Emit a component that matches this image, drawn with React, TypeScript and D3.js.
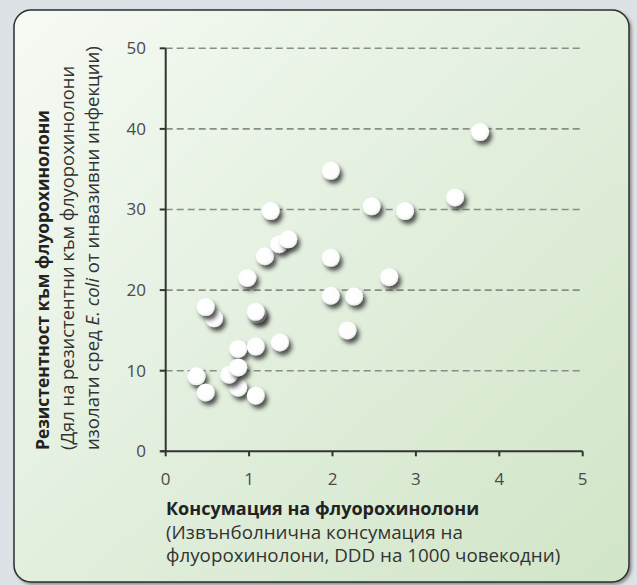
import React from "react";
import * as d3 from "d3";

const consumption = [0.58, 0.48, 0.98, 0.37, 0.48, 0.87, 0.76, 0.87, 0.87, 1.08, 1.08, 1.37, 1.1, 1.08, 1.19, 1.36, 1.47, 1.26, 1.98, 1.98, 1.98, 2.26, 2.18, 2.68, 2.47, 2.87, 3.47, 3.77];
const resistance = [16.5, 17.9, 21.5, 9.3, 7.3, 7.9, 9.5, 12.7, 10.4, 13.0, 6.9, 13.5, 17.0, 17.3, 24.2, 25.7, 26.3, 29.8, 34.8, 24.0, 19.3, 19.2, 15.0, 21.6, 30.4, 29.8, 31.5, 39.6];

const xTicks = [0, 1, 2, 3, 4, 5];
const yTicks = [0, 10, 20, 30, 40, 50];

const yTitle = "Резистентност към флуорохинолони";
const ySub1 = "(Дял на резистентни към флуорохинолони";
const ySub2a = "изолати сред ";
const ySub2b = "E. coli";
const ySub2c = " от инвазивни инфекции)";
const xTitle = "Консумация на флуорохинолони";
const xSub1 = "(Извънболнична консумация на";
const xSub2 = "флуорохинолони, DDD на 1000 човекодни)";

export default function App() {
  const W = 637;
  const H = 585;
  const x = d3.scaleLinear().domain([0, 5]).range([165.7, 582.7]);
  const y = d3.scaleLinear().domain([0, 50]).range([451.3, 48.3]);
  const font = "'Open Sans', 'Noto Sans', sans-serif";
  const pts = consumption.map((c, i) => ({ c, r: resistance[i] }));

  return (
    <svg
      width={W}
      height={H}
      style={{ position: "absolute", left: 0, top: 0, display: "block" }}
      fontFamily={font}
    >
      <defs>
        <linearGradient id="bg" x1="0" y1="0" x2="1" y2="1">
          <stop offset="0%" stopColor="#f6faf4" />
          <stop offset="55%" stopColor="#e0eedb" />
          <stop offset="100%" stopColor="#d1e5c7" />
        </linearGradient>
        <filter id="frameShadow" x="-5%" y="-5%" width="110%" height="110%">
          <feDropShadow dx="2" dy="2" stdDeviation="1.5" floodColor="#555" floodOpacity="0.6" />
        </filter>
        <filter id="dotShadow" x="-60%" y="-60%" width="240%" height="240%">
          <feDropShadow dx="3" dy="4" stdDeviation="2.2" floodColor="#2a2a2a" floodOpacity="0.8" />
        </filter>
        <radialGradient id="dotFill" cx="0.42" cy="0.38" r="0.65">
          <stop offset="0%" stopColor="#ffffff" />
          <stop offset="75%" stopColor="#fdfdfd" />
          <stop offset="100%" stopColor="#e6e6e6" />
        </radialGradient>
      </defs>
      <rect x={0} y={0} width={W} height={H} fill="#dde2e6" />
      <rect
        x={14}
        y={10}
        width={615}
        height={572}
        rx={17}
        ry={17}
        fill="url(#bg)"
        stroke="#2e2e2e"
        strokeWidth={1.5}
        filter="url(#frameShadow)"
      />

      {/* gridlines */}
      {yTicks.filter((t) => t > 0).map((t) => (
        <line
          key={"g" + t}
          x1={x(0)}
          x2={x(5)}
          y1={y(t)}
          y2={y(t)}
          stroke="#888d86"
          strokeWidth={1.6}
          strokeDasharray="7 4"
        />
      ))}

      {/* axes */}
      <line x1={x(0)} x2={x(0)} y1={y(50)} y2={y(0) + 1} stroke="#333" strokeWidth={2} />
      <line x1={x(0) - 5} x2={x(5)} y1={y(0)} y2={y(0)} stroke="#333" strokeWidth={2} />
      {yTicks.map((t) => (
        <line key={"yt" + t} x1={x(0) - 6} x2={x(0)} y1={y(t)} y2={y(t)} stroke="#333" strokeWidth={2} />
      ))}
      {xTicks.map((t) => (
        <line key={"xt" + t} x1={x(t)} x2={x(t)} y1={y(0)} y2={y(0) + 5} stroke="#333" strokeWidth={2} />
      ))}

      {/* tick labels */}
      {yTicks.map((t) => (
        <text
          key={"yl" + t}
          x={146}
          y={y(t)}
          dy="0.35em"
          textAnchor="end"
          fontSize={17}
          fill="#4a4a4a"
        >
          {t}
        </text>
      ))}
      {xTicks.map((t) => (
        <text
          key={"xl" + t}
          x={x(t)}
          y={485}
          textAnchor="middle"
          fontSize={17}
          fill="#4a4a4a"
        >
          {t}
        </text>
      ))}

      {/* points */}
      {pts.map((p, i) => (
        <circle
          key={"p" + i}
          cx={x(p.c)}
          cy={y(p.r)}
          r={9}
          fill="url(#dotFill)"
          filter="url(#dotShadow)"
        />
      ))}

      {/* y title */}
      <g transform="translate(49,450) rotate(-90)">
        <text x={0} y={0} fontSize={17.4} fontWeight="bold" fill="#222">
          {yTitle}
        </text>
        <text x={0} y={25} fontSize={18.4} fill="#333">
          {ySub1}
        </text>
        <text x={0} y={50} fontSize={18.6} fill="#333">
          {ySub2a}
          <tspan fontStyle="italic">{ySub2b}</tspan>
          {ySub2c}
        </text>
      </g>

      {/* x title */}
      <text x={166} y={515} fontSize={18} fontWeight="bold" fill="#222">
        {xTitle}
      </text>
      <text x={166} y={538.5} fontSize={18.8} fill="#333">
        {xSub1}
      </text>
      <text x={166} y={562} fontSize={18.8} fill="#333">
        {xSub2}
      </text>
    </svg>
  );
}
